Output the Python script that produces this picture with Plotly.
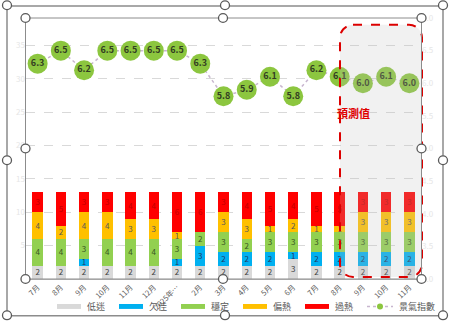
import plotly.graph_objects as go

# Month labels (x positions are indices, since month names repeat)
months = ["7月", "8月", "9月", "10月", "11月", "12月", "2025年…", "2月", "3月",
          "4月", "5月", "6月", "7月", "8月", "9月", "10月", "11月"]

# Stacked counts per climate level
low = [2, 2, 2, 2, 2, 2, 2, 2, 2, 2, 2, 3, 2, 2, 2, 2, 2]      # 低迷
weak = [0, 0, 1, 0, 0, 0, 1, 3, 2, 2, 2, 1, 2, 2, 2, 2, 2]     # 欠佳
stable = [4, 4, 3, 4, 4, 4, 3, 2, 3, 2, 3, 3, 3, 3, 3, 3, 3]   # 穩定
warm = [4, 2, 4, 4, 3, 3, 1, 0, 3, 3, 1, 2, 1, 1, 3, 3, 3]     # 偏熱
hot = [3, 5, 3, 3, 4, 4, 6, 6, 3, 4, 5, 4, 5, 5, 3, 3, 3]      # 過熱

# Composite index (right axis)
index_vals = [6.3, 6.5, 6.2, 6.5, 6.5, 6.5, 6.5, 6.3, 5.8, 5.9, 6.1, 5.8,
              6.2, 6.1, 6.0, 6.1, 6.0]

FONT = "Noto Sans CJK TC"
W, H = 450, 325
L, R, T, B = 26, 421, 13, 279  # plot area in pixels


def px(x):
    return (x - L) / (R - L)


def py(y):
    return (B - y) / (B - T)


x = list(range(len(months)))

series = [
    ("低迷", low, "#D9D9D9", "#404040"),
    ("欠佳", weak, "#00B0F0", "#1F3864"),
    ("穩定", stable, "#92D050", "#375623"),
    ("偏熱", warm, "#FFC000", "#595959"),
    ("過熱", hot, "#FF0000", "#C00000"),
]

fig = go.Figure()
for name, vals, color, tcol in series:
    fig.add_trace(go.Bar(
        x=x, y=vals, name=name, marker=dict(color=color, line=dict(width=0)),
        text=[str(v) if v else "" for v in vals],
        textposition="inside", insidetextanchor="middle", textangle=0,
        textfont=dict(size=9, color=tcol, family=FONT),
        showlegend=False,
    ))

fig.add_trace(go.Scatter(
    x=x, y=index_vals, name="景氣指數", yaxis="y2",
    mode="lines+markers+text",
    line=dict(color="#C8B6CF", width=1.5, dash="dot"),
    marker=dict(size=20, color="#8CC63F"),
    text=[f"{v:.1f}" for v in index_vals],
    textposition="middle center",
    textfont=dict(size=9, color="#333D22", family=FONT, weight="bold"),
    cliponaxis=False, showlegend=False,
))

shapes = []
annotations = []

# Forecast period box (rounded, dashed red)
x0, y0, x1, y1, r = 340, 20, 422, 277, 13
path = (f"M {px(x0 + r)} {py(y0)} L {px(x1 - r)} {py(y0)} "
        f"C {px(x1 - r * 0.45)} {py(y0)} {px(x1)} {py(y0 + r * 0.45)} {px(x1)} {py(y0 + r)} "
        f"L {px(x1)} {py(y1 - r)} "
        f"C {px(x1)} {py(y1 - r * 0.45)} {px(x1 - r * 0.45)} {py(y1)} {px(x1 - r)} {py(y1)} "
        f"L {px(x0 + r)} {py(y1)} "
        f"C {px(x0 + r * 0.45)} {py(y1)} {px(x0)} {py(y1 - r * 0.45)} {px(x0)} {py(y1 - r)} "
        f"L {px(x0)} {py(y0 + r)} "
        f"C {px(x0)} {py(y0 + r * 0.45)} {px(x0 + r * 0.45)} {py(y0)} {px(x0 + r)} {py(y0)} Z")
shapes.append(dict(type="path", path=path, xref="paper", yref="paper",
                   fillcolor="rgba(190,190,190,0.22)",
                   line=dict(color="#DC0000", width=2, dash="dash"),
                   layer="above"))
annotations.append(dict(text="<b>預測值</b>", xref="paper", yref="paper",
                        x=px(372), y=py(110), showarrow=False,
                        font=dict(size=11, color="#E00000", family=FONT)))

# Frames around chart area and plot area
frame = dict(color="#8C8C8C", width=1.5)
shapes.append(dict(type="rect", xref="paper", yref="paper",
                   x0=px(7), y0=py(0.8), x1=px(443), y1=py(316.5), line=frame,
                   layer="above"))
shapes.append(dict(type="rect", xref="paper", yref="paper",
                   x0=px(25.5), y0=py(13), x1=px(421.5), y1=py(279),
                   line=dict(color="#8C8C8C", width=1), layer="above"))

# Resize handles
handles = [(7, 0), (225, 0), (443, 0), (7, 158), (443, 158),
           (7, 316), (225, 316), (443, 316),
           (25.5, 13), (223, 13), (421.5, 13), (25.5, 146), (421.5, 146),
           (25.5, 279), (223, 279), (421.5, 279)]
for hx, hy in handles:
    rr = 4.5
    shapes.append(dict(type="circle", xref="paper", yref="paper",
                       x0=px(hx - rr), x1=px(hx + rr), y0=py(hy + rr), y1=py(hy - rr),
                       fillcolor="white", line=dict(color="#595959", width=1.3),
                       layer="above"))

# Legend
leg_y = 307
legend_items = [
    ("低迷", "#D9D9D9", 57), ("欠佳", "#00B0F0", 119), ("穩定", "#92D050", 181),
    ("偏熱", "#FFC000", 243), ("過熱", "#FF0000", 305),
]
for name, color, lx in legend_items:
    shapes.append(dict(type="rect", xref="paper", yref="paper",
                       x0=px(lx), x1=px(lx + 24), y0=py(leg_y + 2.5), y1=py(leg_y - 2.5),
                       fillcolor=color, line=dict(width=0), layer="above"))
    annotations.append(dict(text=name, xref="paper", yref="paper",
                            x=px(lx + 28), y=py(leg_y), xanchor="left", yanchor="middle",
                            showarrow=False,
                            font=dict(size=9, color="#595959", family=FONT)))
shapes.append(dict(type="line", xref="paper", yref="paper",
                   x0=px(367), x1=px(393), y0=py(leg_y), y1=py(leg_y),
                   line=dict(color="#C8B6CF", width=1.5, dash="dot"), layer="above"))
shapes.append(dict(type="circle", xref="paper", yref="paper",
                   x0=px(377), x1=px(383), y0=py(leg_y + 3), y1=py(leg_y - 3),
                   fillcolor="#8CC63F", line=dict(width=0), layer="above"))
annotations.append(dict(text="景氣指數", xref="paper", yref="paper",
                        x=px(397), y=py(leg_y), xanchor="left", yanchor="middle",
                        showarrow=False,
                        font=dict(size=9, color="#595959", family=FONT)))

fig.update_layout(
    width=W, height=H,
    margin=dict(l=L, r=W - R, t=T, b=H - B),
    paper_bgcolor="white", plot_bgcolor="white",
    barmode="stack", bargap=0.55,
    uniformtext=dict(minsize=8, mode="show"),
    font=dict(family=FONT, size=8, color="#595959"),
    showlegend=False,
    xaxis=dict(range=[-0.5, len(months) - 0.5], tickvals=x, ticktext=months,
               tickangle=-45, tickfont=dict(size=7.5, color="#595959"),
               showgrid=False, showline=True, linecolor="#BFBFBF", ticks="",
               zeroline=False, fixedrange=True),
    yaxis=dict(range=[0, 39.1], dtick=5, showgrid=True, gridcolor="#D9D9D9",
               griddash="dash", gridwidth=1, zeroline=False,
               tickfont=dict(size=8, color="#E6E6E6"), showline=False),
    yaxis2=dict(range=[3, 7], dtick=0.5, overlaying="y", side="right",
                showgrid=False, zeroline=False, tickformat=".1f",
                tickfont=dict(size=8, color="#E6E6E6"), showline=False),
    shapes=shapes, annotations=annotations,
)

fig.write_html("out.html")
